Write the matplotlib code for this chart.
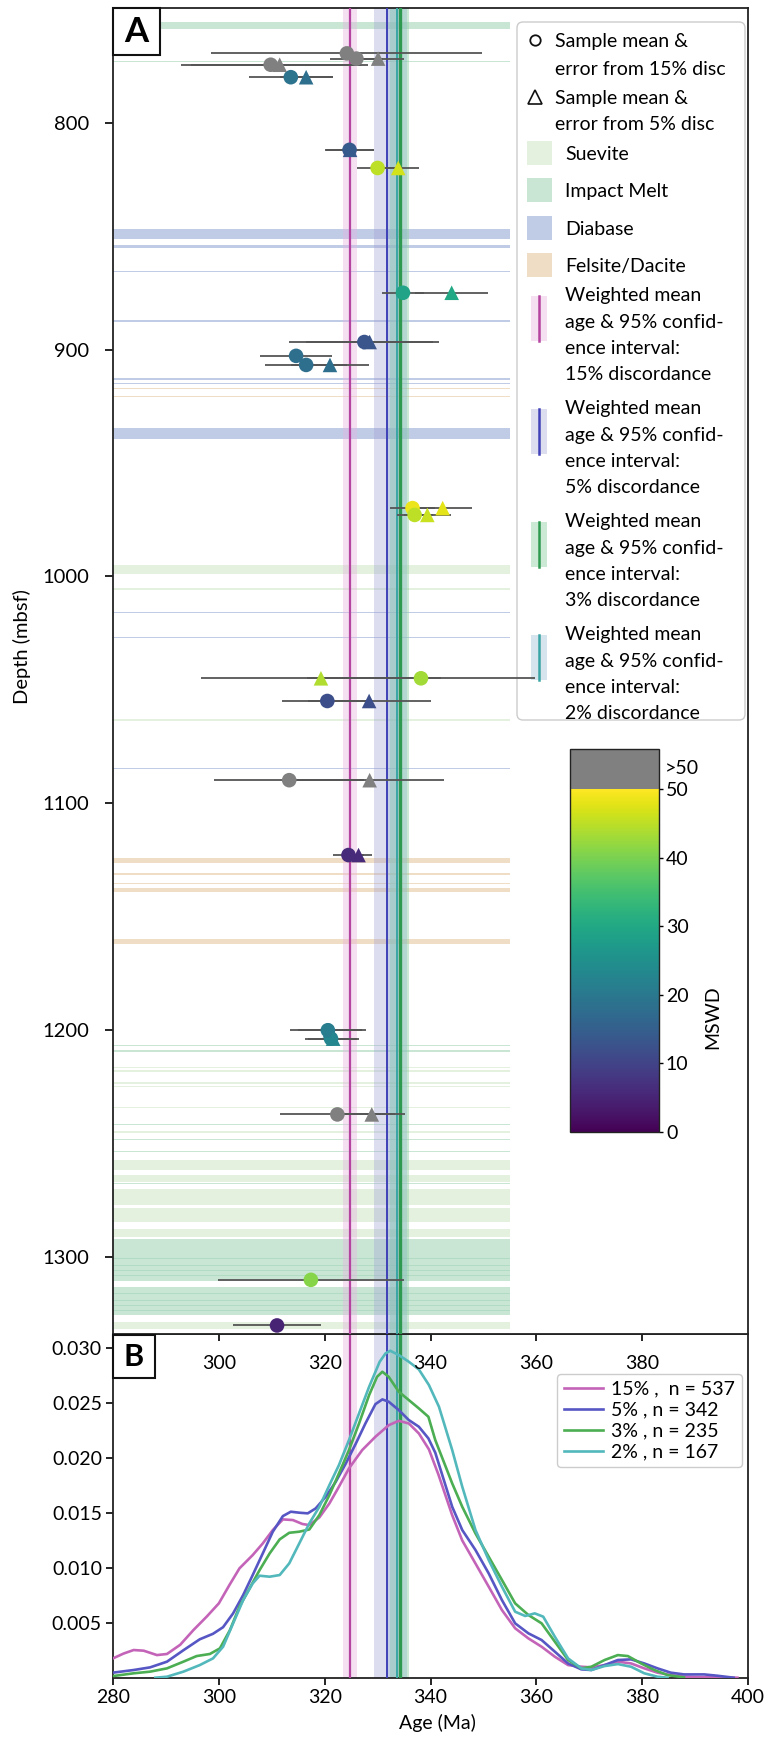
import numpy as np
import matplotlib
matplotlib.use("Agg")
import matplotlib.pyplot as plt
import matplotlib.transforms as mtransforms
from matplotlib.patches import Rectangle, FancyBboxPatch
from matplotlib.lines import Line2D
from matplotlib.colors import Normalize
from matplotlib.cm import ScalarMappable

plt.rcParams['font.family'] = ['Lato', 'DejaVu Sans']
plt.rcParams['axes.linewidth'] = 1.3
plt.rcParams['axes.edgecolor'] = '#222222'

W, H, DPI = 773, 1737, 100

# ---------------- sample ages (panel A) ----------------
sample_depth = [769.5, 771.8, 774.5, 780.0, 812.0, 820.0, 875.0, 896.7, 902.8, 906.8,
                969.9, 972.9, 1044.9, 1054.9, 1089.8, 1122.8, 1200.0, 1203.7, 1237.1,
                1310.0, 1330.1]
age_15 = [324.2, 326.0, 309.8, 313.6, 324.7, 330.0, 334.8, 327.5, 314.6, 316.5,
          336.6, 337.0, 338.2, 320.5, 313.3, 324.5, 320.6, 321.2, 322.4, 317.4, 311.0]
err_15 = [25.6, 5.0, 17.0, 7.9, 4.6, 3.8, 3.9, 14.2, 6.8, 7.8,
          4.3, 3.4, 21.5, 8.5, 14.2, 3.0, 7.2, 5.0, 10.9, 17.5, 8.3]
mswd_15 = [99, 99, 99, 19, 14, 45, 29, 13, 18, 18,
           48.5, 45, 43, 12, 99, 6, 21, 23, 99, 41, 5]
age_5 = [np.nan, 330.1, 311.5, 316.5, 324.8, 333.9, 344.0, 328.5, np.nan, 321.0,
         342.3, 339.4, 319.3, 328.4, 328.5, 326.4, 321.0, 321.6, 328.9, np.nan, np.nan]
err_5 = [np.nan, 4.8, 16.7, 5.0, 4.6, 3.9, 6.9, 12.0, np.nan, 7.4,
         5.5, 4.5, 22.7, 11.6, 14.1, 2.6, 6.0, 4.8, 6.2, np.nan, np.nan]
mswd_5 = [np.nan, 99, 99, 18, 14, 46.5, 30, 13, np.nan, 18,
          48, 46, 44, 12, 99, 6, 21, 23, 99, np.nan, np.nan]

# ---------------- lithology intervals (depth, mbsf) ----------------
litho_top = [755.8, 772.8, 846.9, 853.8, 865.2, 887.2, 912.7, 914.6, 917.1, 920.5, 934.4,
             994.9, 1005.3, 1015.7, 1026.6, 1063.0, 1084.4, 1123.9, 1130.9, 1135.0, 1137.1,
             1159.9, 1206.7, 1208.9, 1216.2, 1217.7, 1223.0, 1224.4, 1233.8, 1241.3, 1244.6,
             1248.0, 1253.1, 1257.3, 1264.0, 1267.4, 1269.8, 1278.5, 1287.5, 1291.9, 1300.4,
             1303.4, 1305.6, 1307.8, 1313.2, 1315.8, 1318.8, 1321.0, 1323.2, 1328.7]
litho_base = [758.7, 773.3, 851.3, 855.3, 865.9, 887.7, 913.3, 915.0, 917.5, 920.9, 939.4,
              998.9, 1005.9, 1016.3, 1027.0, 1063.5, 1084.9, 1126.2, 1131.6, 1135.7, 1139.0,
              1162.1, 1207.1, 1209.4, 1216.8, 1218.3, 1223.6, 1225.0, 1234.4, 1241.8, 1245.2,
              1248.5, 1253.7, 1261.8, 1266.9, 1267.9, 1277.2, 1284.6, 1291.2, 1310.3, 1300.9,
              1303.9, 1306.1, 1308.3, 1325.7, 1316.3, 1319.3, 1321.5, 1323.7, 1331.6]
litho_unit = ['Impact Melt', 'Impact Melt', 'Diabase', 'Diabase', 'Diabase', 'Diabase',
              'Diabase', 'Diabase', 'Felsite/Dacite', 'Felsite/Dacite', 'Diabase',
              'Suevite', 'Suevite', 'Diabase', 'Diabase', 'Suevite', 'Diabase',
              'Felsite/Dacite', 'Felsite/Dacite', 'Felsite/Dacite', 'Felsite/Dacite',
              'Felsite/Dacite', 'Impact Melt', 'Impact Melt', 'Suevite', 'Suevite',
              'Suevite', 'Suevite', 'Suevite', 'Impact Melt', 'Suevite', 'Impact Melt',
              'Impact Melt', 'Suevite', 'Suevite', 'Impact Melt', 'Suevite', 'Suevite',
              'Suevite', 'Impact Melt', 'Impact Melt', 'Impact Melt', 'Impact Melt',
              'Impact Melt', 'Impact Melt', 'Impact Melt', 'Impact Melt', 'Impact Melt',
              'Impact Melt', 'Suevite']
litho_names = ['Suevite', 'Impact Melt', 'Diabase', 'Felsite/Dacite']
litho_color = {'Suevite': ('#e4f1df', 1.0), 'Impact Melt': ('#9ed3b3', 0.55),
               'Diabase': ('#c0cbe5', 1.0), 'Felsite/Dacite': ('#f0ddc5', 1.0)}

# ---------------- weighted mean ages ----------------
wm_disc = ['15%', '5%', '3%', '2%']
wm_age = [324.8, 331.8, 334.2, 333.7]
wm_ci = [1.4, 2.5, 1.8, 1.9]
wm_line = ['#b4449f', '#4040b8', '#2e9a50', '#3aa5a5']
wm_band = [('#e6b3e0', 0.4), ('#9f9fd5', 0.35), ('#8fd0a3', 0.45), ('#8bb7cc', 0.35)]
wm_lw = [1.6, 1.4, 2.4, 1.4]

# ---------------- age density curves (panel B) ----------------
kde15_age = [280, 282, 283.9, 285.8, 288.3, 290.2, 292.7, 295.2, 297.7, 300, 302, 303.9,
             306.4, 308.3, 310.2, 312.1, 314, 315.8, 317.1, 319, 320.9, 322.7, 324.6, 327.1,
             329.6, 332.1, 334, 335.9, 337.8, 339.7, 341.5, 344.1, 346, 348.5, 351, 353.5,
             356, 358.5, 361, 363.5, 366, 368.5, 370.4, 372.9, 375.4, 377.9, 380.4, 382.9,
             385.4, 387.9, 391, 395, 398]
kde15_dens = [0.00176, 0.0022, 0.00252, 0.00246, 0.00206, 0.00216, 0.0030, 0.00434,
              0.00556, 0.00677, 0.00844, 0.00996, 0.01117, 0.01223, 0.01345, 0.01442,
              0.01436, 0.0140, 0.0139, 0.0146, 0.01588, 0.0174, 0.01907, 0.02074, 0.02195,
              0.0230, 0.0234, 0.02316, 0.02225, 0.0208, 0.0185, 0.0148, 0.0125, 0.0104,
              0.00829, 0.00616, 0.0045, 0.00358, 0.00282, 0.00191, 0.00115, 0.0010, 0.00094,
              0.00115, 0.00146, 0.0013, 0.00085, 0.00046, 0.00024, 0.0001, 0.00005, 0.00002, 0.0]
kde5_age = [280, 283.9, 287, 290.2, 293.3, 296.4, 298.9, 300.8, 302.7, 304.6, 306.4, 308.3,
            310.2, 312.1, 313.6, 315.2, 316.8, 318.3, 320.2, 322.1, 324, 325.9, 327.7, 329.6,
            330.9, 332.1, 334, 335.9, 337.8, 339.6, 340.9, 344.1, 346, 348.5, 351, 353.5,
            356, 358.5, 361, 363.5, 366, 368.5, 370.4, 372.9, 375.4, 377.9, 380.4, 382.9,
            385.4, 387.9, 391.7, 394.2, 397.3]
kde5_dens = [0.00046, 0.0007, 0.00094, 0.00146, 0.0025, 0.0035, 0.0040, 0.0046, 0.00586,
             0.00753, 0.00935, 0.01132, 0.0133, 0.01472, 0.01512, 0.01503, 0.01497, 0.01542,
             0.01648, 0.01785, 0.01952, 0.02134, 0.02316, 0.02492, 0.02535, 0.02514, 0.02438,
             0.02347, 0.02286, 0.0218, 0.0205, 0.01557, 0.01345, 0.01163, 0.0095, 0.00707,
             0.00495, 0.00404, 0.00343, 0.00237, 0.0013, 0.00076, 0.0007, 0.00115, 0.00161,
             0.00167, 0.0013, 0.00085, 0.00046, 0.0003, 0.0003, 0.00018, 0.0]
kde3_age = [280, 283.9, 287, 290.2, 293.3, 295.8, 298.3, 300.2, 302.1, 303.9, 305.8, 307.7,
            309.6, 311.5, 313.3, 315.2, 317.1, 319, 320.9, 322.7, 324.6, 326.5, 328.4, 329.9,
            330.9, 332.1, 334, 335.9, 337.8, 339.6, 340.9, 344.1, 346, 348.5, 351, 353.5,
            356, 358.5, 361, 363.5, 366, 368.5, 370.4, 372.9, 375.4, 377.3, 379.8, 382.3,
            384.8, 387.9]
kde3_dens = [0.00015, 0.0004, 0.00055, 0.00085, 0.00146, 0.00197, 0.00216, 0.00267, 0.00434,
             0.00647, 0.00814, 0.0098, 0.01132, 0.0126, 0.0132, 0.0133, 0.0135, 0.01482,
             0.01664, 0.01861, 0.02074, 0.02316, 0.02574, 0.02741, 0.02787, 0.02741, 0.02605,
             0.02529, 0.02453, 0.02377, 0.02165, 0.0177, 0.01557, 0.01314, 0.01102, 0.0089,
             0.00677, 0.00571, 0.00495, 0.00328, 0.00161, 0.00085, 0.0010, 0.00161, 0.00206,
             0.00197, 0.0013, 0.0007, 0.00024, 0.00003]
kde2_age = [288, 290.2, 293.3, 296.4, 298.9, 300.8, 302.7, 304.6, 306.4, 307.7, 309.6, 311.5,
            313.3, 315.2, 317.1, 319, 320.9, 322.7, 324.6, 326.5, 328.4, 330.4, 331.5, 332.4,
            334, 335.9, 337.8, 339.7, 341.6, 344.1, 346, 348.5, 351, 353.5, 356, 357.9,
            359.7, 361.3, 363.5, 366, 368.5, 370.4, 372.9, 375.4, 377.9, 380.4, 382.9, 384.8]
kde2_dens = [0.0, 0.00009, 0.00055, 0.00115, 0.00176, 0.00282, 0.00495, 0.00707, 0.00859,
             0.00929, 0.0092, 0.00935, 0.01041, 0.01223, 0.01406, 0.01557, 0.01755, 0.01937,
             0.02165, 0.02408, 0.0265, 0.02878, 0.02954, 0.02978, 0.02939, 0.02878, 0.02808,
             0.02666, 0.02468, 0.02074, 0.0174, 0.01345, 0.01072, 0.00829, 0.00601, 0.00562,
             0.00586, 0.00556, 0.00373, 0.00176, 0.00085, 0.0007, 0.00106, 0.00124, 0.001,
             0.0004, 0.00009, 0.0]
kde_labels = ['15% ,  n = 537', '5% , n = 342', '3% , n = 235', '2% , n = 167']
kde_colors = ['#c464b8', '#5656c4', '#4cae52', '#52b8bb']

age_ticks = [280, 300, 320, 340, 360, 380, 400]
depth_ticks = [800, 900, 1000, 1100, 1200, 1300]
dens_ticks = [0.005, 0.010, 0.015, 0.020, 0.025, 0.030]
mswd_ticks = [0, 10, 20, 30, 40, 50]

# ---------------- figure layout ----------------
fig = plt.figure(figsize=(W / DPI, H / DPI), dpi=DPI)
# pixel coordinates measured from the top-left corner
PX = mtransforms.Affine2D().scale(1 / W, -1 / H).translate(0, 1) + fig.transFigure


def rect(x0, y0, x1, y1):
    return [x0 / W, 1 - y1 / H, (x1 - x0) / W, (y1 - y0) / H]


axB = fig.add_axes(rect(113, 1334.3, 748, 1677.7))
axA = fig.add_axes(rect(113, 8, 748, 1334.3))
cax = fig.add_axes(rect(570, 749, 659, 1132))

cmap = plt.get_cmap('viridis').copy()
cmap.set_over('#808080')
norm = Normalize(0, 50)

# ---------------- panel A ----------------
axA.set_xlim(280, 400)
axA.set_ylim(1334, 749.5)
for top, base, unit in zip(litho_top, litho_base, litho_unit):
    col, al = litho_color[unit]
    axA.fill_betweenx([top, base], 280, 355, color=col, alpha=al, lw=0, zorder=1)

for ax in (axA, axB):
    for a, ci, (bc, ba) in zip(wm_age, wm_ci, wm_band):
        ax.axvspan(a - ci, a + ci, color=bc, alpha=ba, lw=0, zorder=2)
    for a, lc, lw in zip(wm_age, wm_line, wm_lw):
        ax.axvline(a, color=lc, lw=lw, zorder=3)

d = np.array(sample_depth)
a15, e15, m15 = np.array(age_15), np.array(err_15), np.array(mswd_15)
a5, e5, m5 = np.array(age_5), np.array(err_5), np.array(mswd_5)
ok5 = ~np.isnan(a5)
axA.errorbar(a15, d, xerr=e15, fmt='none', ecolor='#555555', elinewidth=1.3, zorder=5)
axA.errorbar(a5[ok5], d[ok5], xerr=e5[ok5], fmt='none', ecolor='#555555', elinewidth=1.3, zorder=5)
axA.scatter(a15, d, c=m15, cmap=cmap, norm=norm, marker='o', s=10.5 ** 2, lw=0, zorder=6)
axA.scatter(a5[ok5], d[ok5], c=m5[ok5], cmap=cmap, norm=norm, marker='^', s=10.5 ** 2, lw=0, zorder=7)

axA.set_yticks(depth_ticks)
axA.set_xticks(age_ticks[1:-1])
axA.tick_params(axis='y', labelsize=14.5, length=6, width=1.2, pad=11)
axA.tick_params(axis='x', labelsize=14, length=5, width=1.2, pad=10)

# legend for panel A
FS = 14


def put(x, yc, s, size=FS, **kw):
    axA.text(x, yc + 0.36 * size * DPI / 72, s, transform=PX, fontsize=size,
             va='baseline', ha='left', zorder=4.5, clip_on=False, **kw)


axA.add_patch(FancyBboxPatch((517, 22), 228, 698, boxstyle='round,pad=0,rounding_size=6',
                             transform=PX, facecolor='white', edgecolor='#cccccc', lw=1.0,
                             zorder=4))
axA.add_line(Line2D([535], [40], marker='o', ms=7.5, mfc='none', mec='#111111', mew=1.3,
                    transform=PX, zorder=4.5))
axA.add_line(Line2D([535], [97], marker='^', ms=10, mfc='none', mec='#111111', mew=1.2,
                    transform=PX, zorder=4.5))
put(555, 40, 'Sample mean &')
put(555, 68, 'error from 15% disc')
put(555, 97, 'Sample mean &')
put(555, 123, 'error from 5% disc')
for i, name in enumerate(litho_names):
    yc = 153 + 37.3 * i
    col, al = litho_color[name]
    axA.add_patch(Rectangle((527, yc - 12), 25, 24, transform=PX, facecolor=col, alpha=al,
                            lw=0, zorder=4.5))
    put(565, yc, name)
for i, disc in enumerate(wm_disc):
    y0 = 294 + 113 * i
    bc, ba = wm_band[i]
    axA.add_patch(Rectangle((531, y0 + 2), 16, 45, transform=PX, facecolor=bc, alpha=ba,
                            lw=0, zorder=4.5))
    axA.add_line(Line2D([539, 539], [y0 + 2, y0 + 47], color=wm_line[i], lw=1.8,
                        transform=PX, zorder=4.6))
    lines = ['Weighted mean', 'age & 95% confid-', 'ence interval:', disc + ' discordance']
    for k, s in enumerate(lines):
        put(565, y0 + [0, 27, 53, 79][k], s)

# colour bar for MSWD
cb = fig.colorbar(ScalarMappable(norm=norm, cmap=cmap), cax=cax, extend='max',
                  extendrect=True, extendfrac=40 / 343, ticks=mswd_ticks)
cb.outline.set_linewidth(1.0)
cax.tick_params(labelsize=14, length=3, width=1, pad=2)
fig.text(665 / W, 1 - 768 / H, '>50', fontsize=14, va='center', ha='left')
fig.text(713 / W, 1 - 1017 / H, 'MSWD', fontsize=14, rotation=90, va='center', ha='center')

fig.text(22 / W, 1 - 647 / H, 'Depth (mbsf)', fontsize=14.5, rotation=90,
         va='center', ha='center')

# ---------------- panel B ----------------
axB.set_xlim(280, 400)
axB.set_ylim(0, 0.03128)
curves = [(kde15_age, kde15_dens), (kde5_age, kde5_dens), (kde3_age, kde3_dens),
          (kde2_age, kde2_dens)]
for (x, y), lab, col in zip(curves, kde_labels, kde_colors):
    axB.plot(x, y, color=col, lw=1.9, label=lab, zorder=4, solid_joinstyle='round')
axB.set_xticks(age_ticks)
axB.set_yticks(dens_ticks)
axB.set_yticklabels(['%.3f' % v for v in dens_ticks])
axB.tick_params(axis='y', labelsize=14, length=5, width=1.2, pad=3)
axB.tick_params(axis='x', labelsize=14, length=5, width=1.2, pad=3)
leg = axB.legend(loc='upper right', bbox_to_anchor=(742, 1374), bbox_transform=PX,
                 fontsize=14, handlelength=2.0, handletextpad=0.45, labelspacing=0.2,
                 borderpad=0.35, borderaxespad=0, framealpha=1, edgecolor='#cccccc',
                 fancybox=True)
leg.get_frame().set_linewidth(1.0)
fig.text(437 / W, 1 - 1723 / H, 'Age (Ma)', fontsize=14, va='center', ha='center')

# panel letters
for letter, (x0, y0, w, h), size in [('A', (113, 8, 47, 47), 25), ('B', (113, 1335, 42, 43), 22)]:
    fig.add_artist(Rectangle((x0, y0), w, h, transform=PX, facecolor='white',
                             edgecolor='#111111', lw=1.5, zorder=10))
    fig.text((x0 + w / 2) / W, 1 - (y0 + h / 2) / H, letter, fontsize=size,
             fontweight='bold', ha='center', va='center', zorder=11)

fig.savefig('out.png', dpi=DPI)
